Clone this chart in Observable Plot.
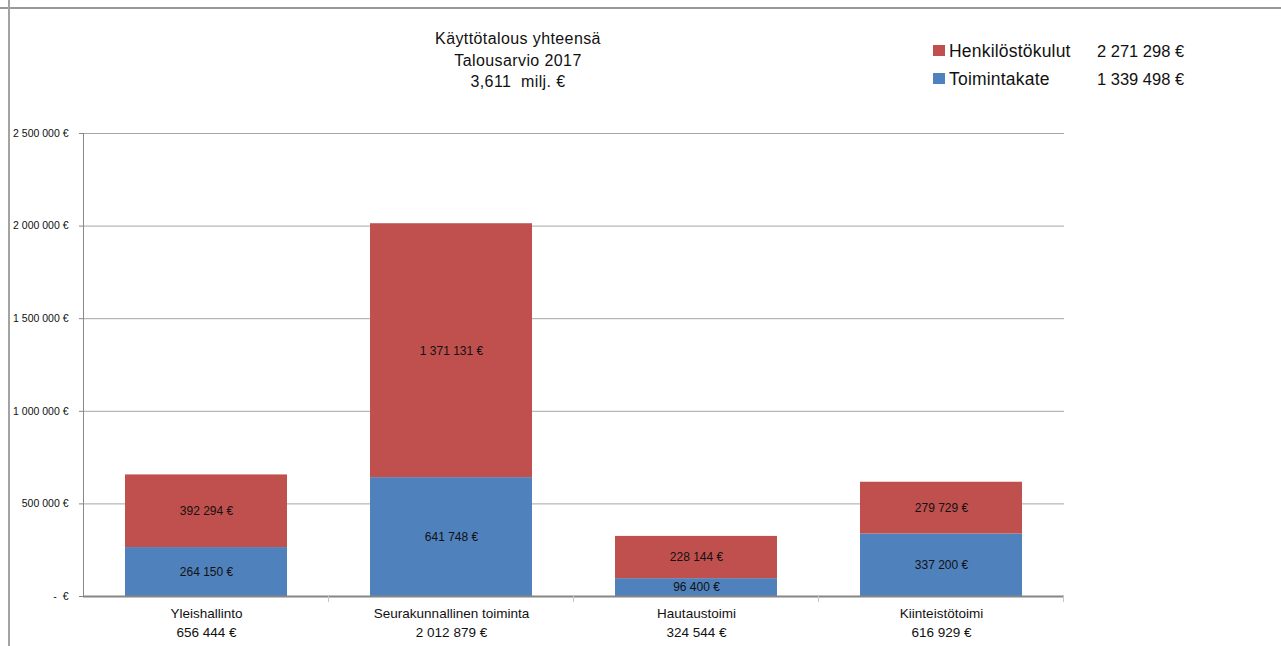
<!DOCTYPE html>
<html>
<head>
<meta charset="utf-8">
<script src="https://cdn.jsdelivr.net/npm/d3@7"></script>
<script src="https://cdn.jsdelivr.net/npm/@observablehq/plot@0.6"></script>
<style>
  html, body { margin: 0; padding: 0; background: #fff; }
  body { width: 1281px; height: 646px; overflow: hidden; position: relative; font-family: "Liberation Sans", Arial, sans-serif; color: #111; }
  #frameTop { position: absolute; left: 0; top: 7px; width: 1281px; height: 2px; background: #999; }
  #frameLeft { position: absolute; left: 8px; top: 0; width: 2px; height: 646px; background: #a3a3a3; }
  #chart { position: absolute; left: 0; top: 0; }
  #title { position: absolute; left: 418px; width: 200px; top: 28px; text-align: center; font-size: 16px; line-height: 21.5px; letter-spacing: 0.4px; color: #111; }
  #legend { position: absolute; left: 933px; top: 37px; line-height: 28px; color: #111; }
  .lrow { position: relative; height: 28px; white-space: nowrap; }
  .sw { position: absolute; left: 0; top: 8px; width: 12px; height: 11px; }
  .ln { position: absolute; left: 16px; top: 0; font-size: 17.5px; letter-spacing: 0.2px; }
  .lv { position: absolute; left: 164px; top: 0; font-size: 16.5px; }
</style>
</head>
<body>
<div id="chart"></div>
<div id="frameTop"></div>
<div id="frameLeft"></div>
<div id="title"></div>
<div id="legend"></div>
<script>
const categories = ["Yleishallinto", "Seurakunnallinen toiminta", "Hautaustoimi", "Kiinteistötoimi"];
const seriesNames = ["Toimintakate", "Henkilöstökulut"];
const toimintakate = [264150, 641748, 96400, 337200];
const henkilostokulut = [392294, 1371131, 228144, 279729];
const yTicks = [0, 500000, 1000000, 1500000, 2000000, 2500000];
const seriesColors = ["#4F81BD", "#C0504D"];
const titleLines = ["Käyttötalous yhteensä", "Talousarvio 2017"];

const fi = d3.formatLocale({decimal: ",", thousands: " ", grouping: [3], currency: ["", " €"]});
const fmt = fi.format(",d");
const eur = v => fmt(v) + " €";

const seriesValues = [toimintakate, henkilostokulut];
const rows = [];
categories.forEach((c, i) => {
  seriesNames.forEach((s, j) => rows.push({category: c, series: s, value: seriesValues[j][i]}));
});
const catTotals = categories.map((c, i) => toimintakate[i] + henkilostokulut[i]);
const seriesTotals = seriesValues.map(a => d3.sum(a));
const grand = d3.sum(seriesTotals);

const chart = Plot.plot({
  width: 1281,
  height: 646,
  marginLeft: 83,
  marginRight: 217,
  marginTop: 133,
  marginBottom: 50,
  style: {fontFamily: "'Liberation Sans', Arial, sans-serif", background: "transparent", overflow: "visible"},
  x: {domain: categories, paddingInner: 0.34, paddingOuter: 0.17, axis: null},
  y: {domain: [0, 2500000], axis: null},
  color: {domain: seriesNames, range: seriesColors},
  marks: [
    Plot.gridY(yTicks.slice(1), {stroke: "#a6a6a6", strokeOpacity: 1}),
    Plot.barY(rows, Plot.stackY({x: "category", y: "value", fill: "series", order: seriesNames})),
    Plot.text(rows, Plot.stackY({x: "category", y: "value", z: "series", order: seriesNames,
      text: d => eur(d.value), fill: "#111", fontSize: 12, letterSpacing: "0.3px"})),
    Plot.axisY(yTicks, {tickSize: 4, tickPadding: 11, stroke: "#888", label: null,
      tickFormat: d => d === 0 ? "-  €" : eur(d), fontSize: 10.5, fill: "#111"}),
    Plot.ruleY([0], {stroke: "#858585", strokeWidth: 2}),
    Plot.text(categories, {x: d => d, frameAnchor: "bottom", lineAnchor: "top", dy: 8,
      lineHeight: 1.42, fontSize: 13.5, letterSpacing: "0.2px", fill: "#111",
      text: (d, i) => d + "\n" + eur(catTotals[i])})
  ]
});
document.getElementById("chart").appendChild(chart);

// y axis line and band boundary ticks, drawn from Plot's own scales
const xs = chart.scale("x");
const ys = chart.scale("y");
const svg = d3.select(chart);
const y0 = ys.apply(0), yTop = ys.apply(2500000);
const gap = (xs.step - xs.bandwidth) / 2;
const bounds = categories.map(c => xs.apply(c) - gap);
bounds.push(xs.apply(categories[categories.length - 1]) + xs.bandwidth + gap);
svg.append("line").attr("x1", bounds[0]).attr("x2", bounds[0]).attr("y1", y0).attr("y2", yTop)
  .attr("stroke", "#888").attr("stroke-width", 1);
bounds.forEach((b, i) => {
  if (i === 0) return;
  svg.append("line").attr("x1", b).attr("x2", b).attr("y1", y0).attr("y2", y0 + 6)
    .attr("stroke", "#c8c8c8").attr("stroke-width", 1);
});

// title
const t = document.getElementById("title");
[...titleLines, (grand / 1e6).toFixed(3).replace(".", ",") + "\u00a0\u00a0milj. €"].forEach(s => {
  const d = document.createElement("div"); d.textContent = s; t.appendChild(d);
});

// legend (top series first)
const lg = document.getElementById("legend");
[1, 0].forEach(j => {
  const r = document.createElement("div"); r.className = "lrow";
  r.innerHTML = `<span class="sw" style="background:${seriesColors[j]}"></span><span class="ln"></span><span class="lv"></span>`;
  r.querySelector(".ln").textContent = seriesNames[j];
  r.querySelector(".lv").textContent = eur(seriesTotals[j]);
  lg.appendChild(r);
});
</script>
</body>
</html>
